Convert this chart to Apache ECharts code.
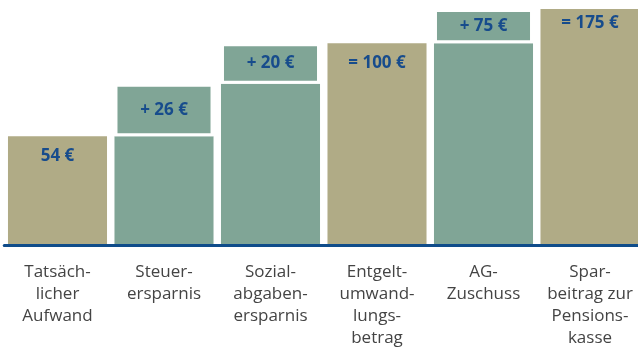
<!DOCTYPE html>
<html>
<head>
<meta charset="utf-8">
<script src="https://cdn.jsdelivr.net/npm/echarts@6/dist/echarts.min.js"></script>
<style>
  html, body { margin: 0; padding: 0; background: #fff; }
  #chart { width: 638px; height: 349px; }
</style>
</head>
<body>
<div id="chart"></div>
<script>
// Bausteine des Sparbeitrags zur Pensionskasse (Monatsbeträge in Euro)
const categories = [
  'Tatsäch-\nlicher\nAufwand',
  'Steuer-\nersparnis',
  'Sozial-\nabgaben-\nersparnis',
  'Entgelt-\numwand-\nlungs-\nbetrag',
  'AG-\nZuschuss',
  'Spar-\nbeitrag zur\nPensions-\nkasse'
];
const amounts = [54, 26, 20, 100, 75, 175];
// 'start' = Ausgangswert, 'plus' = Zuwachs, 'total' = Zwischen-/Endsumme
const steps = ['start', 'plus', 'plus', 'total', 'plus', 'total'];

const KHAKI = '#b0ab86';
const GREEN = '#80a596';
const NAVY = '#0f4c8a';
const LABEL_BLUE = '#174c8c';

// Treppenaufbau: Sockel und Zuwachs je Kategorie
const baseData = [];
const incData = [];
let running = 0;
amounts.forEach((v, i) => {
  const kind = steps[i];
  if (kind === 'plus') {
    baseData.push({ value: running, itemStyle: { color: GREEN }, label: { show: false } });
    incData.push({ value: v });
    running += v;
  } else {
    running = v;
    baseData.push({
      value: v,
      itemStyle: { color: KHAKI },
      label: { show: true, distance: i === amounts.length - 1 ? 6 : 11 }
    });
    incData.push('-');
  }
});

function valueText(i) {
  const v = amounts[i];
  if (steps[i] === 'plus') return '+ ' + v + ' €';
  if (steps[i] === 'total') return '= ' + v + ' €';
  return v + ' €';
}

const valueLabel = {
  color: LABEL_BLUE,
  fontFamily: 'Open Sans',
  fontWeight: 'bold',
  fontSize: 17
};

const chart = echarts.init(document.getElementById('chart'), null, { renderer: 'canvas' });
chart.setOption({
  animation: false,
  grid: { left: 4.25, width: 639, top: 9, bottom: 103.5, outerBoundsMode: 'none' },
  xAxis: {
    type: 'category',
    data: categories,
    z: 10,
    axisTick: { show: false },
    axisLine: { lineStyle: { color: NAVY, width: 3 } },
    axisLabel: {
      interval: 0,
      margin: 16,
      color: '#444',
      fontFamily: 'Open Sans',
      fontSize: 17,
      lineHeight: 22,
      align: 'center'
    }
  },
  yAxis: {
    type: 'value',
    min: 0,
    max: 175,
    axisLine: { show: false },
    axisTick: { show: false },
    axisLabel: { show: false },
    splitLine: { show: false },
    // obere Stufe gestaucht, damit die Endsumme in die Fläche passt
    breaks: [{ start: 101, end: 174, gap: 15 }],
    breakArea: { show: false }
  },
  series: [
    {
      name: 'Sockel',
      type: 'bar',
      stack: 'treppe',
      barCategoryGap: '7%',
      data: baseData,
      label: Object.assign({
        position: 'insideTop',
        formatter: p => valueText(p.dataIndex)
      }, valueLabel)
    },
    {
      name: 'Zuwachs',
      type: 'bar',
      stack: 'treppe',
      data: incData,
      itemStyle: { color: GREEN, borderColor: '#fff', borderWidth: 3 },
      label: Object.assign({
        show: true,
        position: 'inside',
        formatter: p => valueText(p.dataIndex)
      }, valueLabel)
    }
  ]
});
</script>
</body>
</html>
